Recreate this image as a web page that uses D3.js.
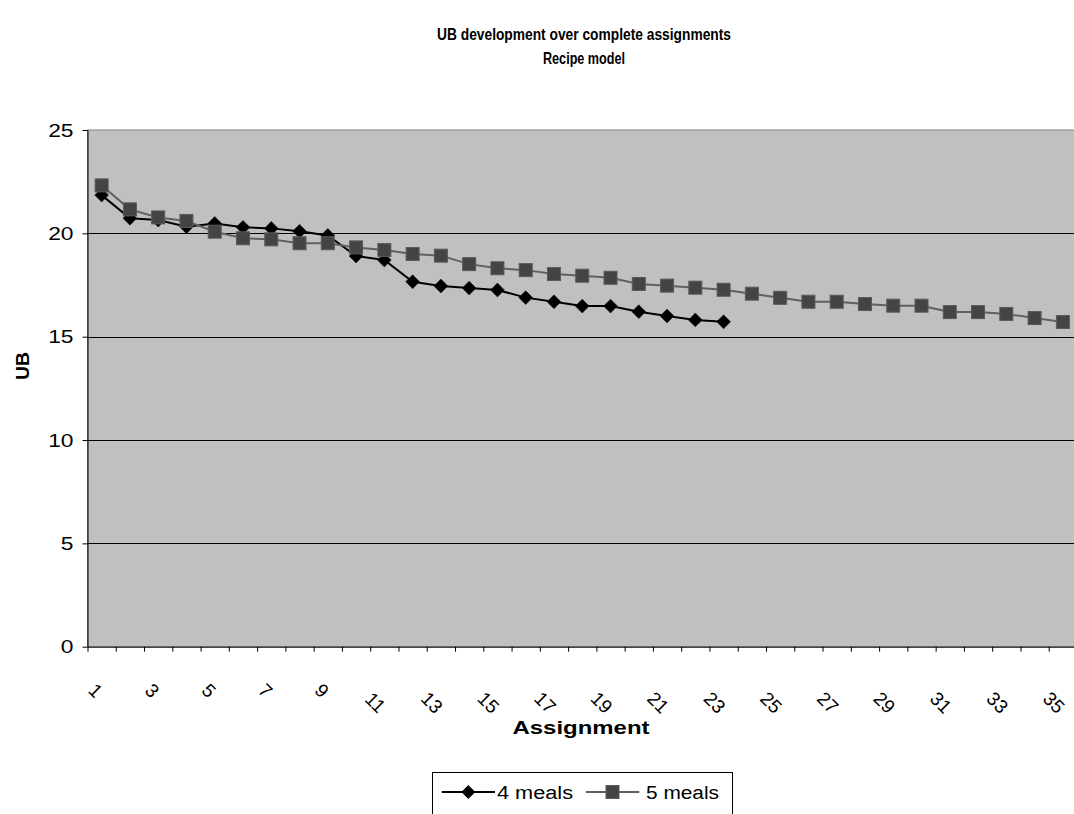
<!DOCTYPE html>
<html>
<head>
<meta charset="utf-8">
<script src="https://cdn.jsdelivr.net/npm/d3@7/dist/d3.min.js"></script>
<style>
  html, body { margin: 0; padding: 0; background: #ffffff; }
  svg { display: block; }
  text { font-family: "Liberation Sans", Arial, sans-serif; fill: #000; }
</style>
</head>
<body>
<svg id="chart" width="1074" height="814"></svg>
<script>
// Assignment numbers along the category axis
const categories = [1, 2, 3, 4, 5, 6, 7, 8, 9, 10, 11, 12, 13, 14, 15, 16, 17, 18,
  19, 20, 21, 22, 23, 24, 25, 26, 27, 28, 29, 30, 31, 32, 33, 34, 35];

// Upper bound after each complete assignment
const meals4 = [21.85, 20.73, 20.64, 20.32, 20.48, 20.29, 20.24, 20.1, 19.9, 18.9,
  18.71, 17.66, 17.45, 17.35, 17.26, 16.89, 16.69, 16.48, 16.48, 16.21, 16.0, 15.81, 15.72];
const meals5 = [22.32, 21.16, 20.77, 20.6, 20.08, 19.76, 19.71, 19.52, 19.52, 19.32,
  19.19, 19.0, 18.92, 18.51, 18.31, 18.22, 18.03, 17.95, 17.85, 17.55, 17.47, 17.37,
  17.27, 17.08, 16.88, 16.69, 16.69, 16.58, 16.5, 16.5, 16.19, 16.19, 16.1, 15.9, 15.71];

const seriesNames = ["4 meals", "5 meals"];
const yTicks = [0, 5, 10, 15, 20, 25];
const xLabelEvery = 2;

const svg = d3.select("#chart");
const plot = { left: 87.5, right: 1077, top: 130, bottom: 646.7 };
// text in this chart is drawn slightly wide
const stretch = 1.2;

const x = d3.scaleBand().domain(categories).range([plot.left, plot.right]);
const y = d3.scaleLinear().domain([0, 25]).range([plot.bottom, plot.top]);
const cx = d => x(d) + x.bandwidth() / 2;

// Plot background
svg.append("rect")
  .attr("x", plot.left).attr("y", plot.top)
  .attr("width", plot.right - plot.left).attr("height", plot.bottom - plot.top)
  .attr("fill", "#c0c0c0").attr("stroke", "#808080").attr("stroke-width", 1);

// Horizontal gridlines
svg.append("g").selectAll("line")
  .data(yTicks.filter(t => t > 0 && t < 25))
  .join("line")
  .attr("x1", plot.left).attr("x2", plot.right)
  .attr("y1", d => Math.round(y(d)) + 0.5).attr("y2", d => Math.round(y(d)) + 0.5)
  .attr("stroke", "#000").attr("stroke-width", 1);

// Value axis
const yAxis = svg.append("g")
  .attr("transform", `translate(${plot.left},0)`)
  .call(d3.axisLeft(y).tickValues(yTicks).tickSize(5).tickPadding(0).tickSizeOuter(0));
yAxis.select(".domain").attr("stroke", "#000");
yAxis.selectAll(".tick line").attr("stroke", "#000");
yAxis.selectAll(".tick text")
  .attr("x", 0)
  .attr("transform", `translate(-14,0) scale(${stretch},1)`)
  .style("font-family", "'Liberation Sans', Arial, sans-serif")
  .style("font-size", "19px").attr("fill", "#000");

// Category axis: tick marks at band boundaries
const bounds = d3.range(categories.length + 1);
const xb = d3.scaleLinear().domain([0, categories.length]).range([plot.left, plot.right]);
const xAxis = svg.append("g")
  .attr("transform", `translate(0,${plot.bottom})`)
  .call(d3.axisBottom(xb).tickValues(bounds).tickSize(5).tickFormat("").tickSizeOuter(0));
xAxis.select(".domain").attr("stroke", "#000");
xAxis.selectAll(".tick line").attr("stroke", "#000");

// Rotated category labels, placed by the centre of each label;
// longer labels sit a little further down and left
svg.append("g").selectAll("text")
  .data(categories.filter((d, i) => i % xLabelEvery === 0))
  .join("text")
  .attr("transform", d => {
    const extra = String(d).length - 1;
    return `translate(${cx(d) - 6 - 3 * extra},${plot.bottom + 44 + 12 * extra}) rotate(45)`;
  })
  .attr("text-anchor", "middle")
  .attr("dominant-baseline", "central")
  .style("font-size", "19px")
  .text(d => d);

// Series lines and markers
const line = d3.line().x((d, i) => cx(categories[i])).y(d => y(d));

const g4 = svg.append("g");
g4.append("path").datum(meals4).attr("d", line)
  .attr("fill", "none").attr("stroke", "#000").attr("stroke-width", 2);
g4.selectAll("path.m").data(meals4).join("path").attr("class", "m")
  .attr("d", d3.symbol(d3.symbolSquare, 96)())
  .attr("transform", (d, i) => `translate(${cx(categories[i])},${y(d)}) rotate(45)`)
  .attr("fill", "#000").attr("stroke", "#111").attr("stroke-width", 0.5);

const g5 = svg.append("g");
g5.append("path").datum(meals5).attr("d", line)
  .attr("fill", "none").attr("stroke", "#606060").attr("stroke-width", 2);
g5.selectAll("rect").data(meals5).join("rect")
  .attr("x", (d, i) => cx(categories[i]) - 6.5).attr("y", d => y(d) - 6.5)
  .attr("width", 13).attr("height", 13)
  .attr("fill", "#444444").attr("stroke", "#5a5a5a").attr("stroke-width", 1);

// Titles
svg.append("text").attr("x", 584).attr("y", 40).attr("text-anchor", "middle")
  .style("font-size", "16.5px").style("font-weight", "bold")
  .attr("textLength", 294).attr("lengthAdjust", "spacingAndGlyphs")
  .text("UB development over complete assignments");
svg.append("text").attr("x", 584).attr("y", 64).attr("text-anchor", "middle")
  .style("font-size", "16.5px").style("font-weight", "bold")
  .attr("textLength", 82).attr("lengthAdjust", "spacingAndGlyphs")
  .text("Recipe model");
svg.append("text").attr("x", 581).attr("y", 734).attr("text-anchor", "middle")
  .style("font-size", "18px").style("font-weight", "bold")
  .attr("textLength", 137).attr("lengthAdjust", "spacingAndGlyphs")
  .text("Assignment");
svg.append("text").attr("transform", "translate(29,366) rotate(-90)")
  .attr("text-anchor", "middle")
  .style("font-size", "18px").style("font-weight", "bold")
  .attr("textLength", 28).attr("lengthAdjust", "spacingAndGlyphs")
  .text("UB");

// Legend
const legend = svg.append("g");
legend.append("rect").attr("x", 432.5).attr("y", 772.5).attr("width", 300).attr("height", 60)
  .attr("fill", "#fff").attr("stroke", "#000").attr("stroke-width", 1);
const lg = [
  { name: seriesNames[0], x0: 441.7, x1: 495, tx: 497, w: 76 },
  { name: seriesNames[1], x0: 585.7, x1: 639.3, tx: 646, w: 73 }
];
legend.append("line").attr("x1", lg[0].x0).attr("x2", lg[0].x1).attr("y1", 792).attr("y2", 792)
  .attr("stroke", "#000").attr("stroke-width", 2);
legend.append("path").attr("d", d3.symbol(d3.symbolSquare, 96)())
  .attr("transform", `translate(${(lg[0].x0 + lg[0].x1) / 2},792) rotate(45)`).attr("fill", "#000");
legend.append("line").attr("x1", lg[1].x0).attr("x2", lg[1].x1).attr("y1", 792).attr("y2", 792)
  .attr("stroke", "#606060").attr("stroke-width", 2);
legend.append("rect").attr("x", (lg[1].x0 + lg[1].x1) / 2 - 6.5).attr("y", 785.5)
  .attr("width", 13).attr("height", 13).attr("fill", "#444").attr("stroke", "#5a5a5a");
legend.selectAll("text.lt").data(lg).join("text").attr("class", "lt")
  .attr("x", d => d.tx).attr("y", 798.5)
  .style("font-size", "18px")
  .attr("textLength", d => d.w).attr("lengthAdjust", "spacingAndGlyphs")
  .text(d => d.name);
</script>
</body>
</html>
